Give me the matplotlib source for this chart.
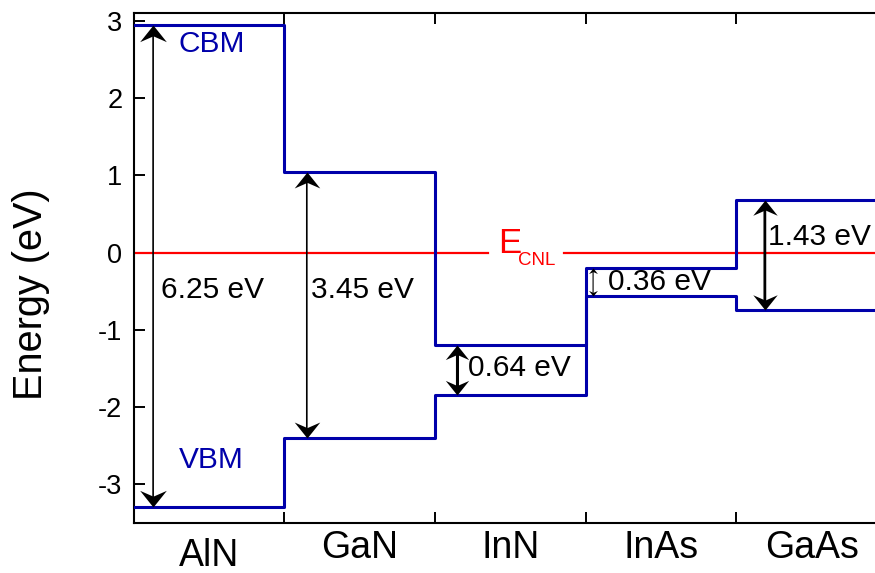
import matplotlib.pyplot as plt
from matplotlib.path import Path

plt.rcParams['font.family'] = ['Liberation Sans', 'DejaVu Sans']
plt.rcParams['axes.unicode_minus'] = False

# band edges relative to the charge neutrality level (eV)
materials = ['AlN', 'GaN', 'InN', 'InAs', 'GaAs']
cbm = [2.95, 1.05, -1.20, -0.20, 0.68]
gaps = [6.25, 3.45, 0.64, 0.36, 1.43]
vbm = [c - g for c, g in zip(cbm, gaps)]
e_cnl = 0.0

BLUE = '#0000aa'
RED = '#ff0000'

# arrow / label placement inside each material column
arrow_x = [0.13, 1.15, 2.15, 3.05, 4.19]
label_xy = [(0.18, -0.49), (1.18, -0.49), (2.22, -1.49), (3.15, -0.38), (4.21, 0.20)]
shaft_lw = [1.2, 1.2, 2.2, 0.8, 2.0]
head_size = [24, 23, 21, 8, 22]

# stealth-style arrow heads, tip at the marker origin
HEAD_UP = Path([(0, 0), (0.8, -1), (0, -0.65), (-0.8, -1), (0, 0)],
               [Path.MOVETO, Path.LINETO, Path.LINETO, Path.LINETO, Path.CLOSEPOLY])
HEAD_DOWN = Path([(0, 0), (0.8, 1), (0, 0.65), (-0.8, 1), (0, 0)],
                 [Path.MOVETO, Path.LINETO, Path.LINETO, Path.LINETO, Path.CLOSEPOLY])


def gap_arrow(ax, x, lo, hi, lw, size):
    shrink = size * 0.3
    ax.annotate('', xy=(x, hi), xytext=(x, lo),
                arrowprops=dict(arrowstyle='-', lw=lw, color='black',
                                shrinkA=shrink, shrinkB=shrink))
    ax.plot([x], [hi], marker=HEAD_UP, ms=size, mew=0, color='black', ls='none', zorder=5)
    ax.plot([x], [lo], marker=HEAD_DOWN, ms=size, mew=0, color='black', ls='none', zorder=5)


def main():
    fig = plt.figure(figsize=(8.75, 5.73), dpi=100)
    ax = fig.add_axes([0.1526, 0.0878, 0.861, 0.889])

    n = len(materials)
    xs = list(range(n + 1))
    ax.step(xs, cbm + [cbm[-1]], where='post', color=BLUE, lw=2.2, zorder=3)
    ax.step(xs, vbm + [vbm[-1]], where='post', color=BLUE, lw=2.2, zorder=3)

    # CNL line, broken where its label sits
    ax.plot([0, 2.355], [e_cnl, e_cnl], color=RED, lw=1.6, zorder=2)
    ax.plot([2.86, n], [e_cnl, e_cnl], color=RED, lw=1.6, zorder=2)
    ax.text(2.42, e_cnl, 'E', color=RED, fontsize=25, va='baseline', ha='left')
    ax.text(2.555, e_cnl - 0.165, 'CNL', color=RED, fontsize=13.5, va='baseline', ha='left')

    for i in range(n):
        gap_arrow(ax, arrow_x[i], vbm[i], cbm[i], shaft_lw[i], head_size[i])
        ax.text(label_xy[i][0], label_xy[i][1], f'{gaps[i]:.2f} eV',
                fontsize=21.5, ha='left', va='center')

    ax.text(0.30, 2.70, 'CBM', color=BLUE, fontsize=21.5, ha='left', va='center')
    ax.text(0.30, -2.69, 'VBM', color=BLUE, fontsize=21.5, ha='left', va='center')

    ax.set_xlim(0, n)
    ax.set_ylim(-3.5, 3.1)
    ax.set_yticks([-3, -2, -1, 0, 1, 2, 3])
    ax.set_xticks(range(1, n))
    ax.set_xticklabels([])
    ax.tick_params(direction='in', length=8, width=1.4, labelsize=19.5, pad=8,
                   top=True, right=True)
    for s in ax.spines.values():
        s.set_linewidth(1.5)

    # material names under each column (AlN sits a little lower)
    offsets = [-0.085, -0.0693, -0.0693, -0.0693, -0.0693]
    for i, name in enumerate(materials):
        ax.text(i + 0.5, offsets[i], name, fontsize=27, ha='center', va='baseline',
                transform=ax.get_xaxis_transform())

    ax.set_ylabel('Energy (eV)', fontsize=28.5)
    ax.yaxis.set_label_coords(-0.111, 0.449)

    fig.savefig('out.png', dpi=100)


if __name__ == '__main__':
    main()
